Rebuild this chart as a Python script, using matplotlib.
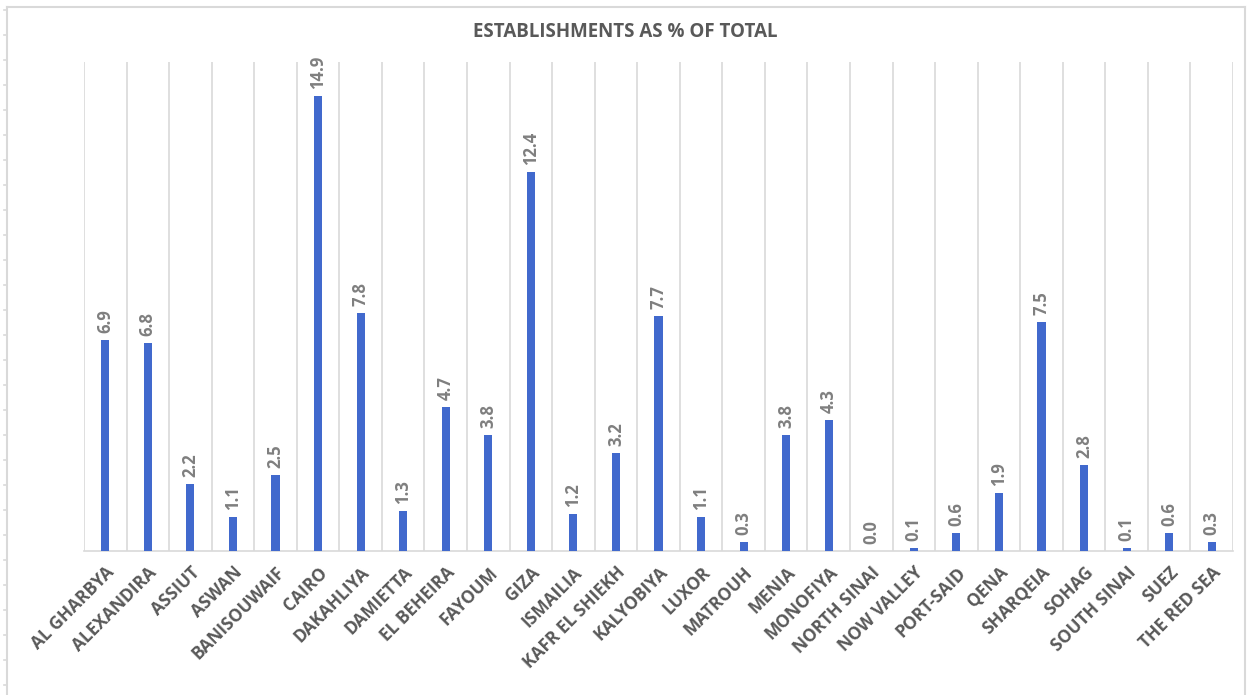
import matplotlib
matplotlib.use("Agg")
import matplotlib.pyplot as plt
from matplotlib.lines import Line2D
import numpy as np

plt.rcParams['font.family'] = ['Open Sans', 'DejaVu Sans']

governorates = ['AL GHARBYA', 'ALEXANDIRA', 'ASSIUT', 'ASWAN', 'BANISOUWAIF', 'CAIRO',
                'DAKAHLIYA', 'DAMIETTA', 'EL BEHEIRA', 'FAYOUM', 'GIZA', 'ISMAILIA',
                'KAFR EL SHIEKH', 'KALYOBIYA', 'LUXOR', 'MATROUH', 'MENIA', 'MONOFIYA',
                'NORTH SINAI', 'NOW VALLEY', 'PORT-SAID', 'QENA', 'SHARQEIA', 'SOHAG',
                'SOUTH SINAI', 'SUEZ', 'THE RED SEA']
share_pct = [6.9, 6.8, 2.2, 1.1, 2.5, 14.9, 7.8, 1.3, 4.7, 3.8, 12.4, 1.2, 3.2, 7.7,
             1.1, 0.3, 3.8, 4.3, 0.0, 0.1, 0.6, 1.9, 7.5, 2.8, 0.1, 0.6, 0.3]

W, H = 1250, 695
fig = plt.figure(figsize=(W / 100, H / 100), dpi=100)
ax = fig.add_axes([84 / W, 1 - 551 / H, (1233 - 84) / W, (551 - 62) / H])

x = np.arange(len(governorates))
bars = ax.bar(x, share_pct, width=0.19, color='#4169CD', zorder=3)

ax.set_xlim(-0.5, len(governorates) - 0.5)
ax.set_ylim(0, 16)

# category separators
for b in np.arange(-0.5, len(governorates), 1.0):
    ax.axvline(b, color='#D9D9D9', lw=1.2, zorder=1)

for s in ['top', 'right', 'left']:
    ax.spines[s].set_visible(False)
ax.spines['bottom'].set_color('#D9D9D9')
ax.spines['bottom'].set_linewidth(1.2)
ax.set_yticks([])
ax.set_xticks(x)
ax.set_xticklabels(governorates, rotation=45, ha='right', rotation_mode='anchor',
                   fontsize=12.5, fontweight='bold', color='#595959')
ax.tick_params(axis='x', length=0, pad=9)

for rect, v in zip(bars, share_pct):
    ax.annotate(f'{v:.1f}', (rect.get_x() + rect.get_width() / 2, v),
                xytext=(0, 5), textcoords='offset points', rotation=90,
                ha='center', va='bottom', fontsize=12, fontweight='bold', color='#7F7F7F')

fig.text(0.5, 1 - 32 / H, 'ESTABLISHMENTS AS % OF TOTAL', ha='center', va='center',
         fontsize=13.5, fontweight='bold', color='#595959')

# outer chart frame with small ticks on the left edge
edge = '#D9D9D9'
fig.add_artist(Line2D([7 / W, 7 / W], [0, 1 - 7 / H], transform=fig.transFigure, color=edge, lw=1.5))
fig.add_artist(Line2D([7 / W, 1245 / W], [1 - 7 / H, 1 - 7 / H], transform=fig.transFigure, color=edge, lw=1.5))
fig.add_artist(Line2D([1245 / W, 1245 / W], [0, 1 - 7 / H], transform=fig.transFigure, color=edge, lw=1.5))
for ty in np.arange(10, H, 25):
    fig.add_artist(Line2D([4 / W, 7 / W], [1 - ty / H, 1 - ty / H], transform=fig.transFigure, color=edge, lw=1.2))

fig.savefig('out.png', dpi=100)
